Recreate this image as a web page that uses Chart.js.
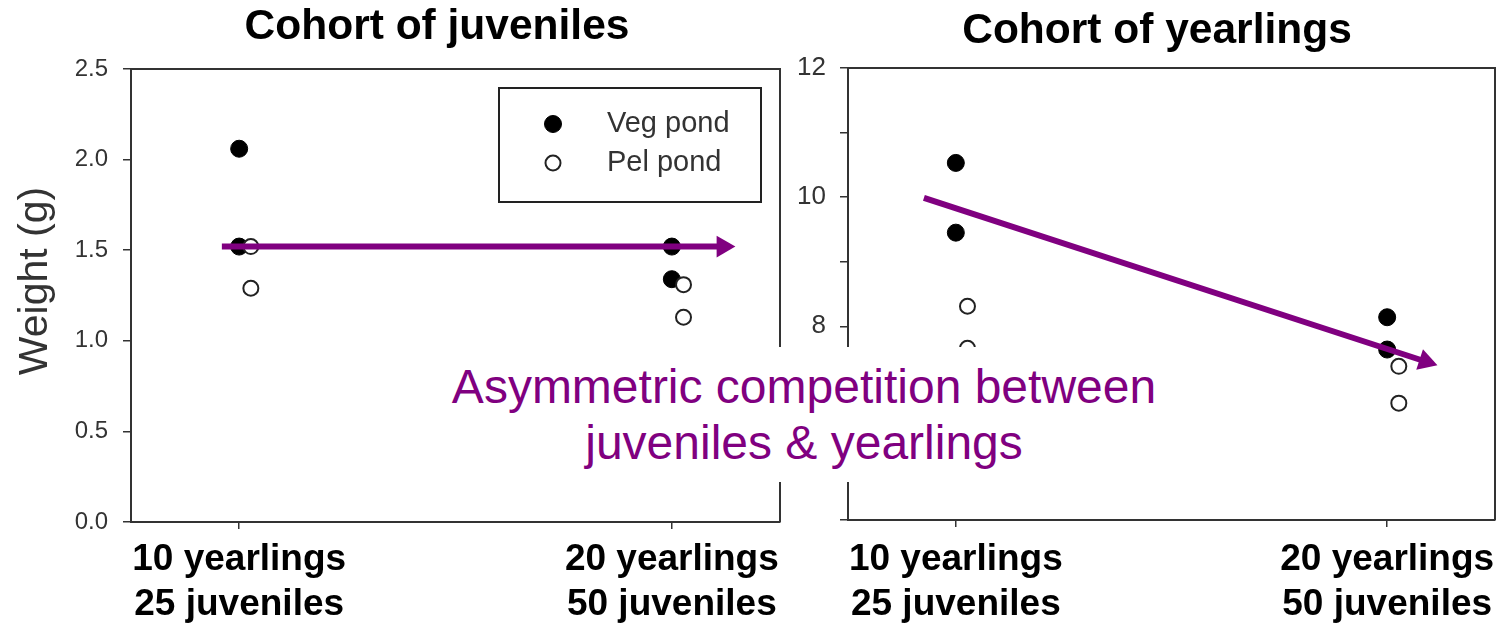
<!DOCTYPE html>
<html>
<head>
<meta charset="utf-8">
<script src="https://cdn.jsdelivr.net/npm/chart.js@4.4.0/dist/chart.umd.min.js"></script>
<style>
  body { margin: 0; background: #fff; }
  #wrap { position: relative; width: 1501px; height: 623px; overflow: hidden; font-family: "Liberation Sans", Arial, sans-serif; }
  #c1 { position: absolute; left: 0; top: 0; }
  #c2 { position: absolute; left: 790px; top: 0; }
  #note {
    position: absolute; left: 440px; top: 347px; width: 728px; height: 135px;
    box-sizing: border-box; padding-top: 12px;
    background: #fff; color: #800080; font-size: 48px; line-height: 56px; text-align: center;
  }
</style>
</head>
<body>
<div id="wrap">
  <canvas id="c1" width="790" height="623"></canvas>
  <canvas id="c2" width="711" height="623"></canvas>
  <div id="note">Asymmetric competition between<br>juveniles &amp; yearlings</div>
</div>
<script>
"use strict";

// treatment groups (x axis), two lines each
const groups = [["10 yearlings", "25 juveniles"], ["20 yearlings", "50 juveniles"]];
const groupOf = [1, 1, 2, 2];
const pelShift = 0.027; // open symbols sit a little to the right

// cohort of juveniles, weight (g)
const juvVeg = [2.06, 1.52, 1.52, 1.34];
const juvPel = [1.52, 1.29, 1.31, 1.13];
const juvTicks = [0, 0.5, 1, 1.5, 2, 2.5];

// cohort of yearlings, weight (g)
const yrlVeg = [10.53, 9.45, 8.14, 7.64];
const yrlPel = [8.31, 7.66, 7.38, 6.81];
const yrlTicks = [5, 6, 7, 8, 9, 10, 11, 12];

// trend arrows (start, head)
const juvArrowX = [0.96, 2.118];
const juvArrowY = [1.52, 1.52];
const yrlArrowX = [0.926, 2.089];
const yrlArrowY = [9.99, 7.455];

const PURPLE = "#800080";
const AXIS = "#333";
const FONT = '"Liberation Sans", Arial, sans-serif';

Chart.defaults.font.family = FONT;
Chart.defaults.color = AXIS;

function toPoints(values, shift) {
	return values.map(function (v, i) {
		return { x: groupOf[i] + shift, y: v };
	});
}

// turn the arrow head along the line, in pixel space
function headAngle(ctx) {
	const pts = ctx.chart.data.datasets[ctx.datasetIndex].data;
	const sx = ctx.chart.scales.x;
	const sy = ctx.chart.scales.y;
	const dx = sx.getPixelForValue(pts[1].x) - sx.getPixelForValue(pts[0].x);
	const dy = sy.getPixelForValue(pts[1].y) - sy.getPixelForValue(pts[0].y);
	return 90 + Math.atan2(dy, dx) * 180 / Math.PI;
}

function arrowDataset(xs, ys) {
	return {
		label: "trend",
		data: xs.map(function (x, i) { return { x: x, y: ys[i] }; }),
		showLine: true,
		borderColor: PURPLE,
		borderWidth: 6,
		pointStyle: "triangle",
		pointRadius: [0, 12.5],
		pointBorderWidth: 0,
		pointBackgroundColor: PURPLE,
		pointRotation: headAngle,
	};
}

function pondDatasets(veg, pel) {
	return [
		{
			label: "Pel pond",
			data: toPoints(pel, pelShift),
			pointRadius: 7.5,
			pointBackgroundColor: "#fff",
			pointBorderColor: "#222",
			pointBorderWidth: 2,
		},
		{
			label: "Veg pond",
			data: toPoints(veg, 0),
			pointRadius: 8.5,
			pointBackgroundColor: "#000",
			pointBorderColor: "#000",
			pointBorderWidth: 1,
		},
	];
}

// closes the box round the plot area
const frame = {
	id: "frame",
	beforeDatasetsDraw(chart) {
		const a = chart.chartArea;
		const ctx = chart.ctx;
		ctx.save();
		ctx.strokeStyle = AXIS;
		ctx.lineWidth = 2;
		ctx.beginPath();
		ctx.moveTo(a.left, a.top);
		ctx.lineTo(a.right, a.top);
		ctx.lineTo(a.right, a.bottom);
		ctx.stroke();
		ctx.restore();
	},
};

// titles and the rotated y caption
const captions = {
	id: "captions",
	afterDraw(chart, args, opts) {
		const ctx = chart.ctx;
		(opts.items || []).forEach(function (c) {
			ctx.save();
			ctx.font = c.font + " " + FONT;
			ctx.fillStyle = c.color;
			ctx.textAlign = "center";
			ctx.textBaseline = "middle";
			ctx.translate(c.x, c.y);
			ctx.rotate((c.rotate || 0) * Math.PI / 180);
			ctx.fillText(c.text, 0, 0);
			ctx.restore();
		});
	},
};

const boxLegend = {
	id: "boxLegend",
	afterDraw(chart, args, opts) {
		if (!opts.items) return;
		const ctx = chart.ctx;
		ctx.save();
		ctx.strokeStyle = "#222";
		ctx.lineWidth = 2;
		ctx.strokeRect(opts.left, opts.top, opts.width, opts.height);
		ctx.font = "29px " + FONT;
		ctx.textBaseline = "middle";
		opts.items.forEach(function (name, i) {
			const ds = chart.data.datasets.find(function (d) { return d.label === name; });
			const y = opts.top + opts.firstRow + i * opts.rowGap;
			ctx.beginPath();
			ctx.arc(opts.markerX, y, ds.pointRadius, 0, Math.PI * 2);
			ctx.fillStyle = ds.pointBackgroundColor;
			ctx.fill();
			ctx.lineWidth = ds.pointBorderWidth;
			ctx.strokeStyle = ds.pointBorderColor;
			ctx.stroke();
			ctx.fillStyle = AXIS;
			ctx.fillText(name, opts.textX, y);
		});
		ctx.restore();
	},
};

function xAxis(height, pad) {
	return {
		type: "linear",
		min: 0.75,
		max: 2.25,
		afterBuildTicks: function (s) { s.ticks = [{ value: 1 }, { value: 2 }]; },
		afterFit: function (s) {
			s.height = height;
			s.paddingLeft = 0;
			s.paddingRight = 0;
		},
		grid: { drawOnChartArea: false, tickLength: 7, color: AXIS, lineWidth: 1.5 },
		border: { color: AXIS, width: 2 },
		ticks: {
			callback: function (v) { return groups[v - 1]; },
			font: { size: 37, weight: "bold" },
			color: "#000",
			padding: pad,
			maxRotation: 0,
			autoSkip: false,
		},
	};
}

function yAxis(min, max, ticks, width, fontSize, pad, fmt) {
	return {
		min: min,
		max: max,
		afterBuildTicks: function (s) { s.ticks = ticks.map(function (v) { return { value: v }; }); },
		afterFit: function (s) { s.width = width; },
		grid: { drawOnChartArea: false, tickLength: 8, color: AXIS, lineWidth: 1.5 },
		border: { color: AXIS, width: 2 },
		ticks: { callback: fmt, font: { size: fontSize }, color: AXIS, padding: pad },
	};
}

new Chart(document.getElementById("c1"), {
	type: "scatter",
	data: {
		datasets: [arrowDataset(juvArrowX, juvArrowY)].concat(pondDatasets(juvVeg, juvPel)),
	},
	options: {
		responsive: false,
		animation: false,
		events: [],
		layout: { autoPadding: false, padding: { top: 69, right: 10, left: 0, bottom: 0 } },
		scales: {
			x: xAxis(101, 9),
			y: yAxis(0, 2.5, juvTicks, 131, 24, 15, function (v) { return v.toFixed(1); }),
		},
		plugins: {
			legend: { display: false },
			tooltip: { enabled: false },
			captions: {
				items: [
					{ text: "Cohort of juveniles", x: 437, y: 27, font: "bold 42.5px", color: "#000" },
					{ text: "Weight (g)", x: 36, y: 281, font: "41px", color: AXIS, rotate: -90 },
				],
			},
			boxLegend: {
				items: ["Veg pond", "Pel pond"],
				left: 499, top: 88, width: 262, height: 114,
				firstRow: 36, rowGap: 39, markerX: 553, textX: 607,
			},
		},
	},
	plugins: [frame, captions, boxLegend],
});

new Chart(document.getElementById("c2"), {
	type: "scatter",
	data: {
		datasets: [arrowDataset(yrlArrowX, yrlArrowY)].concat(pondDatasets(yrlVeg, yrlPel)),
	},
	options: {
		responsive: false,
		animation: false,
		events: [],
		layout: { autoPadding: false, padding: { top: 68, right: 6, left: 0, bottom: 0 } },
		scales: {
			x: xAxis(103, 11),
			y: yAxis(5, 12, yrlTicks, 58, 26, 14, function (v) { return v % 2 === 0 ? String(v) : ""; }),
		},
		plugins: {
			legend: { display: false },
			tooltip: { enabled: false },
			captions: {
				items: [{ text: "Cohort of yearlings", x: 367, y: 31, font: "bold 42.5px", color: "#000" }],
			},
		},
	},
	plugins: [frame, captions],
});
</script>
</body>
</html>
